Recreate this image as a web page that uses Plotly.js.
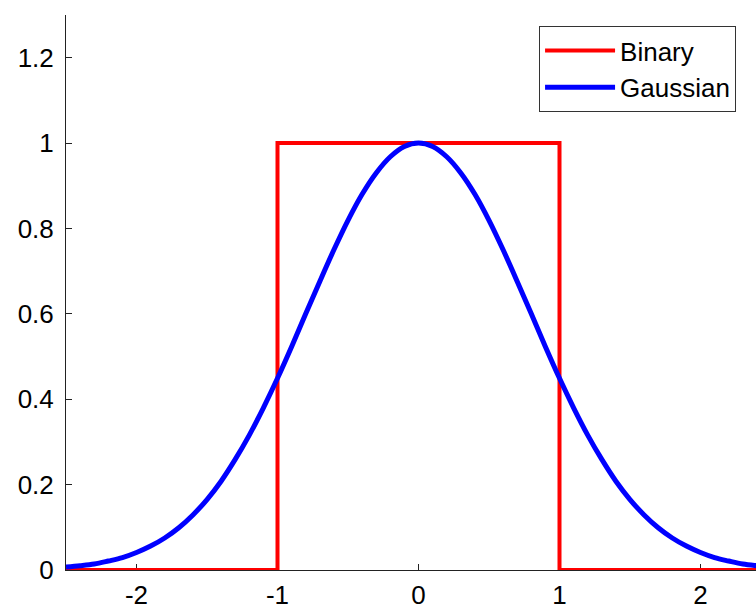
<!DOCTYPE html>
<html>
<head>
<meta charset="utf-8">
<script src="https://cdn.plot.ly/plotly-3.0.1.min.js"></script>
<style>
  html, body { margin: 0; padding: 0; overflow: hidden; background: #fff; }
  #chart { width: 790px; height: 605px; }
</style>
</head>
<body>
<div id="chart"></div>
<script>
// Binary (rectangular) profile
var binaryX = [-2.5, -1, -1, 1, 1, 2.5];
var binaryY = [0, 0, 1, 1, 0, 0];

// Gaussian profile, values
var gaussX = [-2.5, -2.4, -2.3, -2.2, -2.1, -2.0, -1.9, -1.8, -1.7, -1.6, -1.5, -1.4, -1.3, -1.2, -1.1, -1.0,
              -0.9, -0.8, -0.7, -0.6, -0.5, -0.4, -0.3, -0.2, -0.1, 0,
              0.1, 0.2, 0.3, 0.4, 0.5, 0.6, 0.7, 0.8, 0.9, 1.0, 1.1, 1.2, 1.3, 1.4, 1.5,
              1.6, 1.7, 1.8, 1.9, 2.0, 2.1, 2.2, 2.3, 2.4, 2.5];
var gaussY = [0.007, 0.010, 0.014, 0.021, 0.029, 0.041, 0.056, 0.075, 0.099, 0.129, 0.165, 0.208, 0.259, 0.316, 0.380, 0.449,
              0.523, 0.600, 0.676, 0.750, 0.819, 0.880, 0.930, 0.968, 0.992, 1.000,
              0.992, 0.968, 0.930, 0.880, 0.819, 0.750, 0.676, 0.600, 0.523, 0.449, 0.380, 0.316, 0.259, 0.208, 0.165,
              0.129, 0.099, 0.075, 0.056, 0.041, 0.029, 0.021, 0.014, 0.010, 0.007];

var xTicks = [-2, -1, 0, 1, 2];
var xTickText = ['-2', '-1', '0', '1', '2'];
var yTicks = [0, 0.2, 0.4, 0.6, 0.8, 1, 1.2];
var yTickText = ['0', '0.2', '0.4', '0.6', '0.8', '1', '1.2'];

var seriesNames = ['Binary', 'Gaussian'];

var traces = [
  {
    x: binaryX, y: binaryY, type: 'scatter', mode: 'lines', name: seriesNames[0],
    line: { color: '#ff0000', width: 4 }
  },
  {
    x: gaussX, y: gaussY, type: 'scatter', mode: 'lines', name: seriesNames[1],
    line: { color: '#0000ff', width: 5, shape: 'spline' }
  }
];

var font = 'Liberation Sans, Arial, Helvetica, sans-serif';

var layout = {
  width: 790, height: 605,
  margin: { l: 66, r: 19, t: 15, b: 35 },
  paper_bgcolor: '#ffffff', plot_bgcolor: '#ffffff',
  font: { family: font, size: 26, color: '#000' },
  showlegend: true,
  legend: {
    x: 0.671, y: 0.98, xanchor: 'left', yanchor: 'top',
    bordercolor: '#333', borderwidth: 1, bgcolor: '#fff',
    font: { family: font, size: 26, color: '#000' },
    itemwidth: 70,
    tracegroupgap: 0
  },
  xaxis: {
    range: [-2.5, 2.5], showgrid: false, zeroline: false,
    showline: true, linecolor: '#222', linewidth: 1,
    ticks: 'inside', ticklen: 6, tickcolor: '#222',
    tickvals: xTicks, ticktext: xTickText,
    tickfont: { family: font, size: 26, color: '#000' },
    ticklabelstandoff: 2,
    layer: 'below traces'
  },
  yaxis: {
    range: [0, 1.3], showgrid: false, zeroline: false,
    showline: true, linecolor: '#222', linewidth: 1,
    ticks: 'inside', ticklen: 6, tickcolor: '#222',
    tickvals: yTicks, ticktext: yTickText,
    tickfont: { family: font, size: 26, color: '#000' },
    ticklabelstandoff: 6,
    layer: 'below traces'
  }
};

Plotly.newPlot('chart', traces, layout, { displayModeBar: false, staticPlot: true });
</script>
</body>
</html>
